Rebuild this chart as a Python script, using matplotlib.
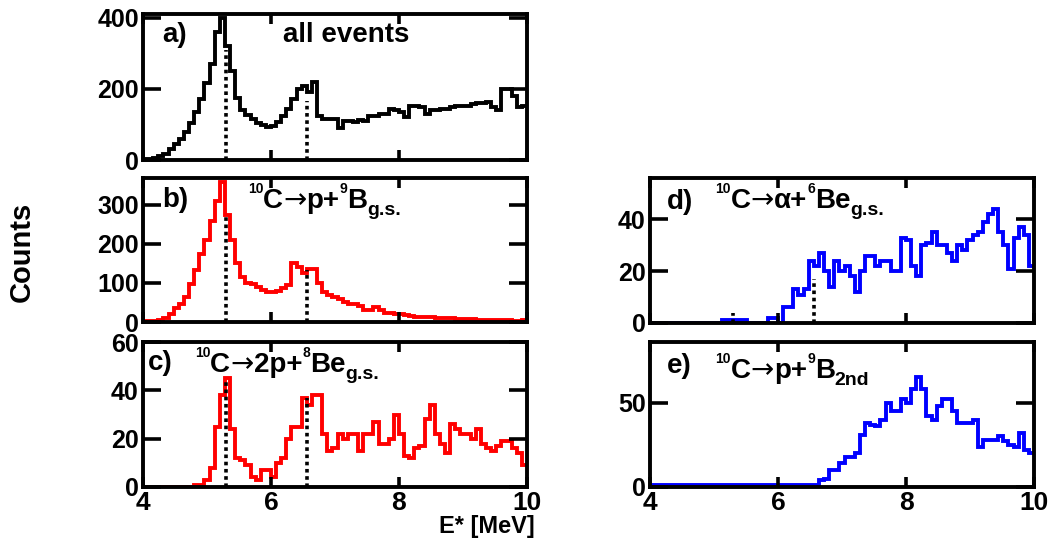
import matplotlib
matplotlib.use("Agg")
import matplotlib.pyplot as plt
import numpy as np

plt.rcParams["font.family"] = ["Liberation Sans", "DejaVu Sans"]
plt.rcParams["font.weight"] = "bold"

# binning: 75 bins of 0.08 MeV between 4 and 10 MeV
E_MIN, E_MAX, N_BINS = 4.0, 10.0, 75
edges = np.linspace(E_MIN, E_MAX, N_BINS + 1)

counts_all = [3, 3, 5, 10, 18, 30, 45, 60, 80, 105,
              135, 170, 215, 270, 360, 400, 320, 250, 175, 140,
              125, 115, 105, 98, 92, 95, 108, 123, 143, 171,
              200, 208, 190, 219, 124, 114, 114, 114, 90, 110,
              110, 108, 112, 110, 123, 123, 128, 128, 143, 140,
              134, 120, 151, 151, 150, 130, 140, 140, 143, 143,
              150, 152, 151, 151, 158, 160, 160, 162, 148, 140,
              200, 198, 180, 150, 152]

counts_p9b = [2, 2, 3, 5, 10, 20, 35, 45, 65, 98,
              132, 175, 210, 260, 310, 360, 275, 209, 150, 115,
              100, 98, 90, 81, 78, 77, 80, 88, 95, 150,
              140, 125, 135, 135, 100, 77, 70, 64, 58, 50,
              47, 45, 40, 32, 30, 38, 30, 24, 22, 21,
              20, 18, 16, 14, 13, 13, 12, 11, 10, 10,
              9, 8, 8, 7, 7, 6, 6, 5, 5, 4,
              4, 4, 3, 3, 5]

counts_2p8be = [0, 0, 0, 0, 0, 0, 0, 0, 0, 0,
                1, 1, 3, 8, 25, 38, 45, 24, 12, 11,
                9, 4, 3, 7, 7, 4, 10, 12, 20, 25,
                25, 37, 34, 38, 38, 22, 15, 16, 22, 20,
                22, 22, 15, 22, 22, 27, 18, 18, 20, 30,
                22, 13, 12, 16, 17, 28, 34, 22, 18, 14,
                26, 24, 22, 22, 20, 24, 18, 16, 15, 17,
                19, 19, 16, 14, 9]

counts_a6be = [0, 0, 0, 0, 0, 0, 0, 0, 0, 0,
               0, 0, 0, 0, 1, 1, 1, 1, 1, 0,
               0, 0, 0, 2, 2, 0, 6, 6, 13, 11,
               13, 24, 22, 27, 20, 14, 24, 20, 22, 18,
               12, 20, 26, 26, 22, 24, 24, 20, 20, 33,
               32, 22, 18, 30, 31, 35, 30, 30, 27, 24,
               30, 28, 32, 34, 35, 39, 42, 44, 35, 30,
               21, 33, 37, 34, 22]

counts_p9b2 = [1, 1, 1, 1, 1, 1, 1, 1, 1, 1,
               1, 1, 1, 1, 1, 1, 1, 1, 1, 1,
               1, 1, 1, 1, 1, 1, 1, 1, 1, 1,
               1, 1, 1, 4, 5, 10, 10, 14, 18, 18,
               20, 31, 38, 37, 36, 40, 50, 45, 45, 52,
               50, 58, 65, 58, 42, 40, 48, 52, 52, 45,
               38, 38, 38, 40, 24, 28, 28, 28, 30, 27,
               25, 24, 32, 22, 20]

# dotted markers of the two 10C states
state_E = [5.30, 6.57]
state_h_a = [310, 165]
state_h_b = [268, 133]
state_h_c = [44, 37]
state_h_d = [4, 17]

fig = plt.figure(figsize=(10.51, 5.45), dpi=100)

W = 384 / 1051
ax_a = fig.add_axes([143 / 1051, 1 - 160 / 545, W, 146 / 545])
ax_b = fig.add_axes([143 / 1051, 1 - 322 / 545, W, 144 / 545])
ax_c = fig.add_axes([143 / 1051, 1 - 487 / 545, W, 145 / 545])
ax_d = fig.add_axes([650 / 1051, 1 - 323 / 545, W, 145 / 545])
ax_e = fig.add_axes([650 / 1051, 1 - 487 / 545, W, 145 / 545])

panels = [
    (ax_a, counts_all, "black", (0, 410), [0, 200, 400], state_h_a),
    (ax_b, counts_p9b, "red", (0, 369), [0, 100, 200, 300], state_h_b),
    (ax_c, counts_2p8be, "red", (0, 60), [0, 20, 40, 60], state_h_c),
    (ax_d, counts_a6be, "blue", (0, 56), [0, 20, 40], state_h_d),
    (ax_e, counts_p9b2, "blue", (0, 86), [0, 50], None),
]

for ax, vals, col, ylim, yt, dots in panels:
    ax.stairs(vals, edges, color=col, linewidth=2.8, baseline=None)
    if dots is not None:
        ax.vlines(state_E, 0, dots, colors="black", linewidth=2.6,
                  linestyles=(0, (1, 1)), zorder=3)
    ax.set_xlim(E_MIN, E_MAX)
    ax.set_ylim(*ylim)
    ax.set_xticks([4, 6, 8, 10])
    ax.set_yticks(yt)
    ax.tick_params(direction="in", width=2.6, top=True, right=True, pad=3)
    ax.tick_params(axis="y", length=13, labelsize=18)
    ax.tick_params(axis="x", length=7, labelsize=19)
    for s in ax.spines.values():
        s.set_linewidth(2.8)
    if ax not in (ax_c, ax_e):
        ax.set_xticklabels([])


def reaction_label(ax, x, y, parts):
    # chain pieces left to right on a common baseline (axes fraction y)
    prev = None
    for s, size, dy in parts:
        kw = dict(fontsize=size, va="baseline", ha="left",
                  textcoords="offset points", xytext=(0, dy))
        if s == "→":
            kw.update(family="DejaVu Sans", fontweight="normal")
        else:
            kw.update(fontweight="bold")
        if prev is None:
            t = ax.annotate(s, xy=(x, y), xycoords="axes fraction", **kw)
        else:
            t = ax.annotate(s, xy=(1, y), xycoords=(prev, "axes fraction"), **kw)
        prev = t


SUP = (10, 10.8)
SUB = (14, -5)
BIG = 20

txt = dict(fontsize=BIG, fontweight="bold", va="center", ha="left")
ax_a.text(0.05, 0.856, "a)", transform=ax_a.transAxes, **txt)
ax_a.text(0.365, 0.856, "all events", transform=ax_a.transAxes, **txt)
ax_b.text(0.05, 0.847, "b)", transform=ax_b.transAxes, **txt)
ax_c.text(0.012, 0.855, "c)", transform=ax_c.transAxes, **txt)
ax_d.text(0.044, 0.834, "d)", transform=ax_d.transAxes, **txt)
ax_e.text(0.044, 0.834, "e)", transform=ax_e.transAxes, **txt)

reaction_label(ax_b, 0.273, 0.79, [("10", *SUP), ("C", BIG, 0), ("→", BIG, 0),
                                   ("p+", BIG, 0), ("9", *SUP), ("B", BIG, 0),
                                   ("g.s.", *SUB)])
reaction_label(ax_c, 0.135, 0.795, [("10", *SUP), ("C", BIG, 0), ("→", BIG, 0),
                                    ("2p+", BIG, 0), ("8", *SUP), ("Be", BIG, 0),
                                    ("g.s.", *SUB)])
reaction_label(ax_d, 0.170, 0.79, [("10", *SUP), ("C", BIG, 0), ("→", BIG, 0),
                                   ("α+", BIG, 0), ("6", *SUP), ("Be", BIG, 0),
                                   ("g.s.", *SUB)])
reaction_label(ax_e, 0.170, 0.75, [("10", *SUP), ("C", BIG, 0), ("→", BIG, 0),
                                   ("p+", BIG, 0), ("9", *SUP), ("B", BIG, 0),
                                   ("2nd", *SUB)])

fig.text(22 / 1051, 1 - 252 / 545, "Counts", rotation=90, fontsize=21,
         fontweight="bold", ha="center", va="center")
fig.text(487 / 1051, 1 - 527 / 545, "E* [MeV]", fontsize=17,
         fontweight="bold", ha="center", va="center")

fig.savefig("out.png", dpi=100)
plt.close(fig)
